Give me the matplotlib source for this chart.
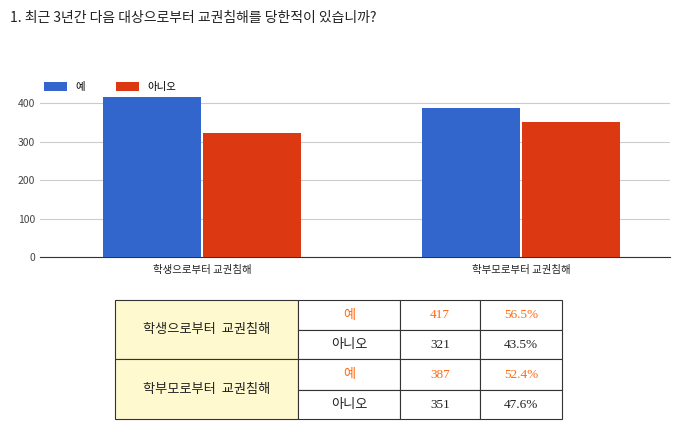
import matplotlib
matplotlib.use("Agg")
import matplotlib.pyplot as plt
from matplotlib.patches import Rectangle

plt.rcParams["font.family"] = "Noto Sans CJK KR"

title = "1. 최근 3년간 다음 대상으로부터 교권침해를 당한적이 있습니까?"
categories = ["학생으로부터 교권침해", "학부모로부터 교권침해"]
series_names = ["예", "아니오"]
yes_vals = [417, 387]
no_vals = [321, 351]
yes_pct = ["56.5%", "52.4%"]
no_pct = ["43.5%", "47.6%"]

blue = "#3366cc"
red = "#dc3912"
orange = "#ff6a13"

fig = plt.figure(figsize=(6.8, 4.3), dpi=100)
fig.text(10 / 680, 1 - 18 / 430, title, fontsize=10, va="center", color="#222222")

# bar chart
ax = fig.add_axes([40 / 680, 1 - 257 / 430, 630 / 680, 172 / 430])
x = range(len(categories))
w = 0.307
ax.bar([i - w / 2 - 0.002 for i in x], yes_vals, w, color=blue, label=series_names[0], zorder=3)
ax.bar([i + w / 2 + 0.002 for i in x], no_vals, w, color=red, label=series_names[1], zorder=3)
ax.set_xlim(-0.508, 1.467)
ax.set_ylim(0, 447)
ax.set_yticks([0, 100, 200, 300, 400])
ax.set_xticks(list(x))
ax.set_xticklabels(categories, fontsize=7.5, color="#222222")
ax.tick_params(axis="y", labelsize=7.5, colors="#444444", length=0)
ax.tick_params(axis="x", length=0, pad=6)
ax.grid(axis="y", color="#cccccc", lw=0.8, zorder=0)
for s in ["top", "right", "left"]:
    ax.spines[s].set_visible(False)
ax.spines["bottom"].set_color("#333333")
ax.legend(loc="upper left", bbox_to_anchor=(0.0, 1.04), ncol=2, frameon=False,
          fontsize=7.5, handlelength=2.2, handleheight=0.9, columnspacing=3.0,
          borderaxespad=0)

# table below
tx = fig.add_axes([0, 0, 1, 1])
tx.set_xlim(0, 680)
tx.set_ylim(430, 0)
tx.axis("off")
cols = [115, 298, 400, 480, 562]
rows = [300, 330, 359, 390, 419]
for g in range(2):
    top, mid, bot = rows[2 * g], rows[2 * g + 1], rows[2 * g + 2]
    tx.add_patch(Rectangle((cols[0], top), cols[1] - cols[0], bot - top,
                           facecolor="#fff9cf", edgecolor="#333333", lw=0.8))
    tx.text((cols[0] + cols[1]) / 2, (top + bot) / 2, categories[g].replace(" ", "  "),
            ha="center", va="center", fontsize=9.5, color="#222222")
    cells = [(top, mid, [series_names[0], str(yes_vals[g]), yes_pct[g]], orange),
             (mid, bot, [series_names[1], str(no_vals[g]), no_pct[g]], "#222222")]
    for y0, y1, texts, c in cells:
        for j, t in enumerate(texts):
            tx.add_patch(Rectangle((cols[j + 1], y0), cols[j + 2] - cols[j + 1], y1 - y0,
                                   facecolor="white", edgecolor="#333333", lw=0.8))
            fam = "Noto Sans CJK KR" if j == 0 else "Liberation Serif"
            tx.text((cols[j + 1] + cols[j + 2]) / 2, (y0 + y1) / 2, t, ha="center",
                    va="center", fontsize=9.5, color=c, family=fam)

fig.savefig("out.png", dpi=100)
